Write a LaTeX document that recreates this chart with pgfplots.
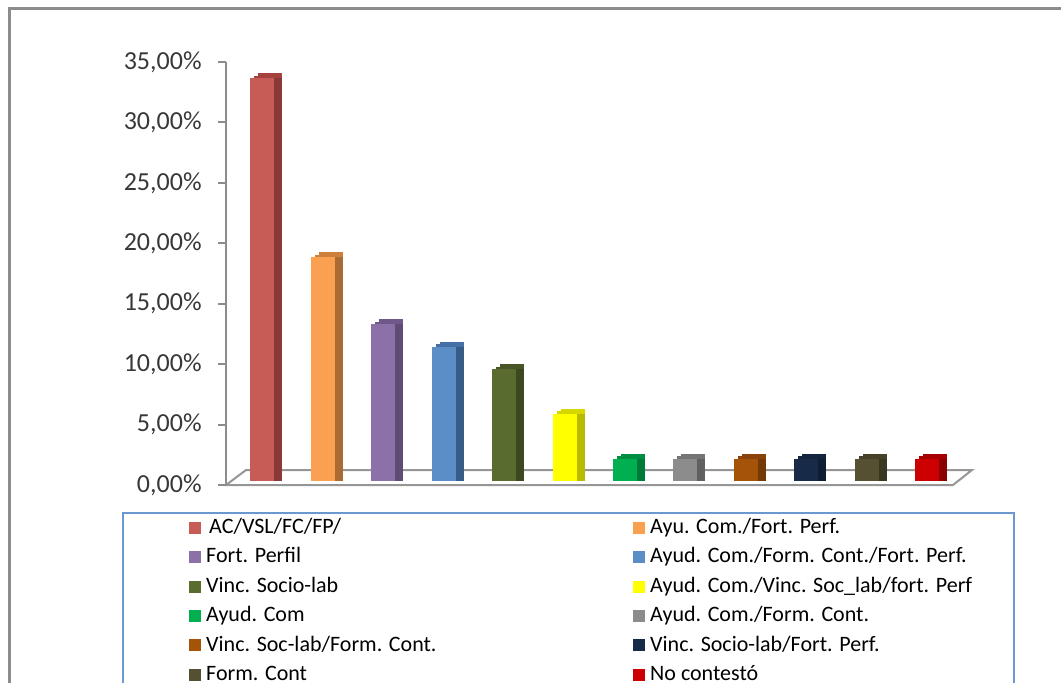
\documentclass[border=0pt]{standalone}
\usepackage{fontspec}
\setmainfont{Carlito}
\usepackage{pgfplots}
\pgfplotsset{compat=1.18}
% front / side / top colours
\definecolor{c1f}{RGB}{199,91,86}   \definecolor{c1s}{RGB}{137,57,55}  \definecolor{c1t}{RGB}{165,66,62}
\definecolor{c2f}{RGB}{249,161,80}  \definecolor{c2s}{RGB}{170,106,52} \definecolor{c2t}{RGB}{205,128,58}
\definecolor{c3f}{RGB}{140,112,168} \definecolor{c3s}{RGB}{95,76,116}  \definecolor{c3t}{RGB}{112,88,138}
\definecolor{c4f}{RGB}{91,141,198}  \definecolor{c4s}{RGB}{56,92,136}  \definecolor{c4t}{RGB}{70,112,165}
\definecolor{c5f}{RGB}{90,107,48}   \definecolor{c5s}{RGB}{60,72,32}   \definecolor{c5t}{RGB}{72,86,38}
\definecolor{c6f}{RGB}{255,255,0}   \definecolor{c6s}{RGB}{185,185,0}  \definecolor{c6t}{RGB}{215,215,0}
\definecolor{c7f}{RGB}{0,176,80}    \definecolor{c7s}{RGB}{0,122,56}   \definecolor{c7t}{RGB}{0,142,66}
\definecolor{c8f}{RGB}{140,140,140} \definecolor{c8s}{RGB}{96,96,96}   \definecolor{c8t}{RGB}{116,116,116}
\definecolor{c9f}{RGB}{166,83,10}   \definecolor{c9s}{RGB}{115,57,7}   \definecolor{c9t}{RGB}{137,67,8}
\definecolor{c10f}{RGB}{23,43,73}   \definecolor{c10s}{RGB}{15,29,50}  \definecolor{c10t}{RGB}{19,36,62}
\definecolor{c11f}{RGB}{85,80,50}   \definecolor{c11s}{RGB}{57,54,34}  \definecolor{c11t}{RGB}{70,66,42}
\definecolor{c12f}{RGB}{204,0,0}    \definecolor{c12s}{RGB}{140,0,0}   \definecolor{c12t}{RGB}{166,0,0}
\definecolor{framegray}{RGB}{140,140,140}
\definecolor{floorgray}{RGB}{150,150,150}
\definecolor{legblue}{RGB}{108,152,208}
\pgfplotsset{
  front/.style={ybar,bar width=12pt,bar shift=0pt,draw=none,yshift=2pt,fill=#1},
  side/.style={ybar,bar width=12pt,bar shift=0pt,draw=none,xshift=4pt,yshift=2pt,fill=#1,forget plot},
  top/.style={ybar,bar width=12pt,bar shift=0pt,draw=none,xshift=4pt,yshift=4.5pt,fill=#1,forget plot},
  topb/.style={ybar,bar width=12pt,bar shift=0pt,draw=none,xshift=2pt,yshift=3.25pt,fill=#1,forget plot},
}
\begin{document}
\begin{tikzpicture}
\useasboundingbox (0pt,0pt) rectangle (530.5pt,341pt);
\clip (0pt,0pt) rectangle (530.5pt,341pt);
% outer frame (cropped at right and bottom)
\draw[framegray,line width=1.5pt] (4.75pt,-5pt) -- (4.75pt,336.75pt) -- (540pt,336.75pt);
% 3D floor
\draw[floorgray,line width=1pt,fill=white] (113pt,98.5pt) -- (476.5pt,98.5pt) -- (486pt,106pt) -- (123pt,106pt) -- cycle;
\begin{axis}[
  at={(113pt,98.5pt)}, anchor=south west,
  scale only axis, width=363.3pt, height=211.5pt,
  xmin=0.4, xmax=12.42, ymin=0, ymax=35,
  axis x line=none, axis y line*=left,
  axis line style={framegray,line width=1pt},
  xtick=\empty,
  ytick={0,5,10,15,20,25,30,35},
  yticklabels={\mbox{0,00\%},\mbox{5,00\%},\mbox{10,00\%},\mbox{15,00\%},\mbox{20,00\%},\mbox{25,00\%},\mbox{30,00\%},\mbox{35,00\%}},
  tick align=outside, major tick length=4pt,
  tick style={framegray,line width=1pt},
  yticklabel style={font=\fontsize{13}{15}\selectfont, text=black!78, inner sep=0pt, xshift=-8pt},
  clip=false,
  legend columns=2,
  legend cell align=left,
  legend image code/.code={\fill[#1] (0pt,-5pt) rectangle (6pt,1pt);},
  legend style={at={(-0.1431,-0.0638)}, anchor=north west, draw=legblue, line width=1.2pt,
    inner xsep=33pt, inner ysep=2pt, column sep=0pt, row sep=4pt,
    nodes={inner xsep=2.5pt, inner ysep=0pt, text height=8.2pt, text depth=2.5pt,
      font=\fontsize{11}{13}\selectfont, text=black}},
]
\addplot[top=c1t] coordinates {(1,33.33)};
\addplot[topb=c1t] coordinates {(1,33.33)};
\addplot[side=c1s] coordinates {(1,33.33)};
\addplot[front=c1f] coordinates {(1,33.33)};
\addlegendentry{\makebox[211pt][l]{\hspace{1.5pt}AC/VSL/FC/FP/}}
\addplot[top=c2t] coordinates {(2,18.52)};
\addplot[topb=c2t] coordinates {(2,18.52)};
\addplot[side=c2s] coordinates {(2,18.52)};
\addplot[front=c2f] coordinates {(2,18.52)};
\addlegendentry{\makebox[146.5pt][l]{Ayu. Com./Fort. Perf.}}
\addplot[top=c3t] coordinates {(3,12.96)};
\addplot[topb=c3t] coordinates {(3,12.96)};
\addplot[side=c3s] coordinates {(3,12.96)};
\addplot[front=c3f] coordinates {(3,12.96)};
\addlegendentry{\makebox[211pt][l]{Fort. Perfil}}
\addplot[top=c4t] coordinates {(4,11.11)};
\addplot[topb=c4t] coordinates {(4,11.11)};
\addplot[side=c4s] coordinates {(4,11.11)};
\addplot[front=c4f] coordinates {(4,11.11)};
\addlegendentry{\makebox[146.5pt][l]{Ayud. Com./Form. Cont./Fort. Perf.}}
\addplot[top=c5t] coordinates {(5,9.26)};
\addplot[topb=c5t] coordinates {(5,9.26)};
\addplot[side=c5s] coordinates {(5,9.26)};
\addplot[front=c5f] coordinates {(5,9.26)};
\addlegendentry{\makebox[211pt][l]{Vinc. Socio-lab}}
\addplot[top=c6t] coordinates {(6,5.56)};
\addplot[topb=c6t] coordinates {(6,5.56)};
\addplot[side=c6s] coordinates {(6,5.56)};
\addplot[front=c6f] coordinates {(6,5.56)};
\addlegendentry{\makebox[146.5pt][l]{Ayud. Com./Vinc. Soc\_lab/fort. Perf}}
\addplot[top=c7t] coordinates {(7,1.85)};
\addplot[topb=c7t] coordinates {(7,1.85)};
\addplot[side=c7s] coordinates {(7,1.85)};
\addplot[front=c7f] coordinates {(7,1.85)};
\addlegendentry{\makebox[211pt][l]{Ayud. Com}}
\addplot[top=c8t] coordinates {(8,1.85)};
\addplot[topb=c8t] coordinates {(8,1.85)};
\addplot[side=c8s] coordinates {(8,1.85)};
\addplot[front=c8f] coordinates {(8,1.85)};
\addlegendentry{\makebox[146.5pt][l]{Ayud. Com./Form. Cont.}}
\addplot[top=c9t] coordinates {(9,1.85)};
\addplot[topb=c9t] coordinates {(9,1.85)};
\addplot[side=c9s] coordinates {(9,1.85)};
\addplot[front=c9f] coordinates {(9,1.85)};
\addlegendentry{\makebox[211pt][l]{Vinc. Soc-lab/Form. Cont.}}
\addplot[top=c10t] coordinates {(10,1.85)};
\addplot[topb=c10t] coordinates {(10,1.85)};
\addplot[side=c10s] coordinates {(10,1.85)};
\addplot[front=c10f] coordinates {(10,1.85)};
\addlegendentry{\makebox[146.5pt][l]{Vinc. Socio-lab/Fort. Perf.}}
\addplot[top=c11t] coordinates {(11,1.85)};
\addplot[topb=c11t] coordinates {(11,1.85)};
\addplot[side=c11s] coordinates {(11,1.85)};
\addplot[front=c11f] coordinates {(11,1.85)};
\addlegendentry{\makebox[211pt][l]{Form. Cont}}
\addplot[top=c12t] coordinates {(12,1.85)};
\addplot[topb=c12t] coordinates {(12,1.85)};
\addplot[side=c12s] coordinates {(12,1.85)};
\addplot[front=c12f] coordinates {(12,1.85)};
\addlegendentry{\makebox[146.5pt][l]{No contestó}}
\end{axis}
\end{tikzpicture}
\end{document}
